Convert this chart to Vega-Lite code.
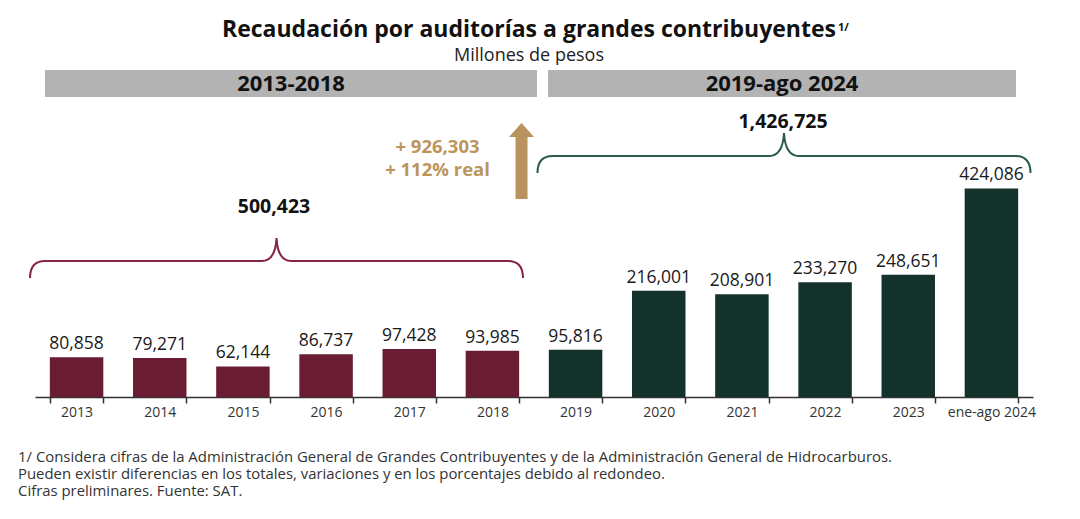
{
  "$schema": "https://vega.github.io/schema/vega-lite/v6.json",
  "width": 998,
  "height": 332,
  "autosize": {"type": "none"},
  "padding": {"left": 35, "top": 65, "right": 47, "bottom": 122},
  "background": "white",
  "config": {"view": {"stroke": null}, "font": "Open Sans"},
  "title": {
    "text": "Recaudación por auditorías a grandes contribuyentes",
    "subtitle": "Millones de pesos",
    "anchor": "middle",
    "frame": "group",
    "font": "Open Sans",
    "fontSize": 23,
    "fontWeight": "bold",
    "color": "#111111",
    "subtitleFont": "Open Sans",
    "subtitleFontSize": 18,
    "subtitleColor": "#222222",
    "subtitlePadding": 5,
    "offset": -43,
    "dx": -5
  },
  "datasets": {
    "recaudacion": [
      {"anio": "2013", "monto": 80858, "periodo": "2013-2018"},
      {"anio": "2014", "monto": 79271, "periodo": "2013-2018"},
      {"anio": "2015", "monto": 62144, "periodo": "2013-2018"},
      {"anio": "2016", "monto": 86737, "periodo": "2013-2018"},
      {"anio": "2017", "monto": 97428, "periodo": "2013-2018"},
      {"anio": "2018", "monto": 93985, "periodo": "2013-2018"},
      {"anio": "2019", "monto": 95816, "periodo": "2019-ago 2024"},
      {"anio": "2020", "monto": 216001, "periodo": "2019-ago 2024"},
      {"anio": "2021", "monto": 208901, "periodo": "2019-ago 2024"},
      {"anio": "2022", "monto": 233270, "periodo": "2019-ago 2024"},
      {"anio": "2023", "monto": 248651, "periodo": "2019-ago 2024"},
      {"anio": "ene-ago 2024", "monto": 424086, "periodo": "2019-ago 2024"}
    ],
    "uno": [{}]
  },
  "layer": [
    {
      "data": {"name": "recaudacion"},
      "mark": {"type": "bar"},
      "encoding": {
        "x": {
          "field": "anio",
          "type": "nominal",
          "sort": null,
          "scale": {"paddingInner": 0.357, "paddingOuter": 0.1785},
          "axis": {
            "title": null,
            "labelAngle": 0,
            "labelFont": "Open Sans",
            "labelFontSize": 14,
            "labelColor": "#333333",
            "labelPadding": 2,
            "tickBand": "extent",
            "tickSize": 6,
            "tickWidth": 1.5,
            "tickColor": "#333333",
            "domainColor": "#333333",
            "domainWidth": 1.5,
            "grid": false
          }
        },
        "y": {
          "field": "monto",
          "type": "quantitative",
          "scale": {"domain": [0, 675000], "nice": false},
          "axis": null
        },
        "color": {
          "field": "periodo",
          "type": "nominal",
          "scale": {"domain": ["2013-2018", "2019-ago 2024"], "range": ["#691C32", "#13322B"]},
          "legend": null
        }
      }
    },
    {
      "data": {"name": "recaudacion"},
      "mark": {"type": "text", "align": "center", "baseline": "alphabetic", "dy": -8, "fontSize": 17.5, "color": "#1a1a1a"},
      "encoding": {
        "x": {"field": "anio", "type": "nominal", "sort": null, "scale": {"paddingInner": 0.357, "paddingOuter": 0.1785}, "axis": null},
        "y": {"field": "monto", "type": "quantitative", "scale": {"domain": [0, 675000], "nice": false}, "axis": null},
        "text": {"field": "monto", "type": "quantitative", "format": ","}
      }
    },
    {
      "data": {"name": "uno"},
      "mark": {"type": "rect", "color": "#B3B3B3"},
      "encoding": {
        "x": {"datum": 0.12, "type": "quantitative", "scale": {"domain": [0, 12], "nice": false, "zero": false}, "axis": null},
        "x2": {"datum": 6.036},
        "y": {"datum": 665000, "type": "quantitative", "scale": {"domain": [0, 675000], "nice": false}, "axis": null},
        "y2": {"datum": 610000}
      }
    },
    {
      "data": {"name": "uno"},
      "mark": {"type": "rect", "color": "#B3B3B3"},
      "encoding": {
        "x": {"datum": 6.168, "type": "quantitative", "scale": {"domain": [0, 12], "nice": false, "zero": false}, "axis": null},
        "x2": {"datum": 11.796},
        "y": {"datum": 665000, "type": "quantitative", "scale": {"domain": [0, 675000], "nice": false}, "axis": null},
        "y2": {"datum": 610000}
      }
    },
    {
      "data": {"name": "uno"},
      "mark": {"type": "text", "text": "2013-2018", "align": "center", "baseline": "middle", "fontSize": 22, "fontWeight": "bold", "color": "#111111"},
      "encoding": {
        "x": {"datum": 3.078, "type": "quantitative", "scale": {"domain": [0, 12], "nice": false, "zero": false}, "axis": null},
        "y": {"datum": 636400, "type": "quantitative", "scale": {"domain": [0, 675000], "nice": false}, "axis": null}
      }
    },
    {
      "data": {"name": "uno"},
      "mark": {"type": "text", "text": "2019-ago 2024", "align": "center", "baseline": "middle", "fontSize": 22, "fontWeight": "bold", "color": "#111111"},
      "encoding": {
        "x": {"datum": 8.982, "type": "quantitative", "scale": {"domain": [0, 12], "nice": false, "zero": false}, "axis": null},
        "y": {"datum": 636400, "type": "quantitative", "scale": {"domain": [0, 675000], "nice": false}, "axis": null}
      }
    },
    {
      "data": {"name": "uno"},
      "mark": {
        "type": "point",
        "shape": "M -1 0.069 Q -1 0 -0.939 0 L -0.06 0 Q -0.005 0 0 -0.093 Q 0.005 0 0.06 0 L 0.939 0 Q 1 0 1 0.069",
        "size": 243049,
        "filled": false,
        "color": "#872448",
        "stroke": "#872448",
        "strokeWidth": 2,
        "opacity": 1
      },
      "encoding": {
        "x": {"datum": 2.904, "type": "quantitative", "scale": {"domain": [0, 12], "nice": false, "zero": false}, "axis": null},
        "y": {"datum": 276500, "type": "quantitative", "scale": {"domain": [0, 675000], "nice": false}, "axis": null}
      }
    },
    {
      "data": {"name": "uno"},
      "mark": {
        "type": "point",
        "shape": "M -1 0.069 Q -1 0 -0.939 0 L -0.06 0 Q -0.005 0 0 -0.093 Q 0.005 0 0.06 0 L 0.939 0 Q 1 0 1 0.069",
        "size": 243049,
        "filled": false,
        "color": "#2B5A4D",
        "stroke": "#2B5A4D",
        "strokeWidth": 2,
        "opacity": 1
      },
      "encoding": {
        "x": {"datum": 9.006, "type": "quantitative", "scale": {"domain": [0, 12], "nice": false, "zero": false}, "axis": null},
        "y": {"datum": 490000, "type": "quantitative", "scale": {"domain": [0, 675000], "nice": false}, "axis": null}
      }
    },
    {
      "data": {"name": "uno"},
      "mark": {"type": "text", "text": "500,423", "align": "center", "baseline": "middle", "fontSize": 19.5, "fontWeight": "bold", "color": "#111111"},
      "encoding": {
        "x": {"datum": 2.874, "type": "quantitative", "scale": {"domain": [0, 12], "nice": false, "zero": false}, "axis": null},
        "y": {"datum": 386300, "type": "quantitative", "scale": {"domain": [0, 675000], "nice": false}, "axis": null}
      }
    },
    {
      "data": {"name": "uno"},
      "mark": {"type": "text", "text": "1,426,725", "align": "center", "baseline": "middle", "fontSize": 19.5, "fontWeight": "bold", "color": "#111111"},
      "encoding": {
        "x": {"datum": 8.994, "type": "quantitative", "scale": {"domain": [0, 12], "nice": false, "zero": false}, "axis": null},
        "y": {"datum": 559100, "type": "quantitative", "scale": {"domain": [0, 675000], "nice": false}, "axis": null}
      }
    },
    {
      "data": {"name": "uno"},
      "mark": {"type": "text", "text": "+ 926,303", "align": "center", "baseline": "middle", "fontSize": 18.5, "fontWeight": "bold", "color": "#BC955C"},
      "encoding": {
        "x": {"datum": 4.84, "type": "quantitative", "scale": {"domain": [0, 12], "nice": false, "zero": false}, "axis": null},
        "y": {"datum": 508300, "type": "quantitative", "scale": {"domain": [0, 675000], "nice": false}, "axis": null}
      }
    },
    {
      "data": {"name": "uno"},
      "mark": {"type": "text", "text": "+ 112% real", "align": "center", "baseline": "middle", "fontSize": 18.5, "fontWeight": "bold", "color": "#BC955C"},
      "encoding": {
        "x": {"datum": 4.84, "type": "quantitative", "scale": {"domain": [0, 12], "nice": false, "zero": false}, "axis": null},
        "y": {"datum": 461500, "type": "quantitative", "scale": {"domain": [0, 675000], "nice": false}, "axis": null}
      }
    },
    {
      "data": {"name": "uno"},
      "mark": {
        "type": "point",
        "shape": "M -0.158 1 L -0.158 -0.632 L -0.329 -0.632 L 0 -1 L 0.329 -0.632 L 0.158 -0.632 L 0.158 1 Z",
        "size": 5776,
        "filled": true,
        "color": "#B8935E",
        "strokeWidth": 0,
        "opacity": 1
      },
      "encoding": {
        "x": {"datum": 5.85, "type": "quantitative", "scale": {"domain": [0, 12], "nice": false, "zero": false}, "axis": null},
        "y": {"datum": 479800, "type": "quantitative", "scale": {"domain": [0, 675000], "nice": false}, "axis": null}
      }
    },
    {
      "data": {"name": "uno"},
      "mark": {"type": "text", "text": "1/", "align": "left", "baseline": "alphabetic", "fontSize": 11, "fontWeight": "bold", "color": "#111111"},
      "encoding": {
        "x": {"datum": 9.655, "type": "quantitative", "scale": {"domain": [0, 12], "nice": false, "zero": false}, "axis": null},
        "y": {"datum": 744100, "type": "quantitative", "scale": {"domain": [0, 675000], "nice": false}, "axis": null}
      }
    },
    {
      "data": {"name": "uno"},
      "mark": {
        "type": "text",
        "text": [
          "1/ Considera cifras de la Administración General de Grandes Contribuyentes y de la Administración General de Hidrocarburos.",
          "Pueden existir diferencias en los totales, variaciones y en los porcentajes debido al redondeo.",
          "Cifras preliminares. Fuente: SAT."
        ],
        "lineHeight": 17,
        "align": "left",
        "baseline": "alphabetic",
        "fontSize": 14.9,
        "color": "#333333"
      },
      "encoding": {
        "x": {"datum": -0.204, "type": "quantitative", "scale": {"domain": [0, 12], "nice": false, "zero": false}, "axis": null},
        "y": {"datum": -132150, "type": "quantitative", "scale": {"domain": [0, 675000], "nice": false}, "axis": null}
      }
    }
  ],
  "resolve": {"scale": {"x": "independent"}, "axis": {"x": "independent"}}
}
